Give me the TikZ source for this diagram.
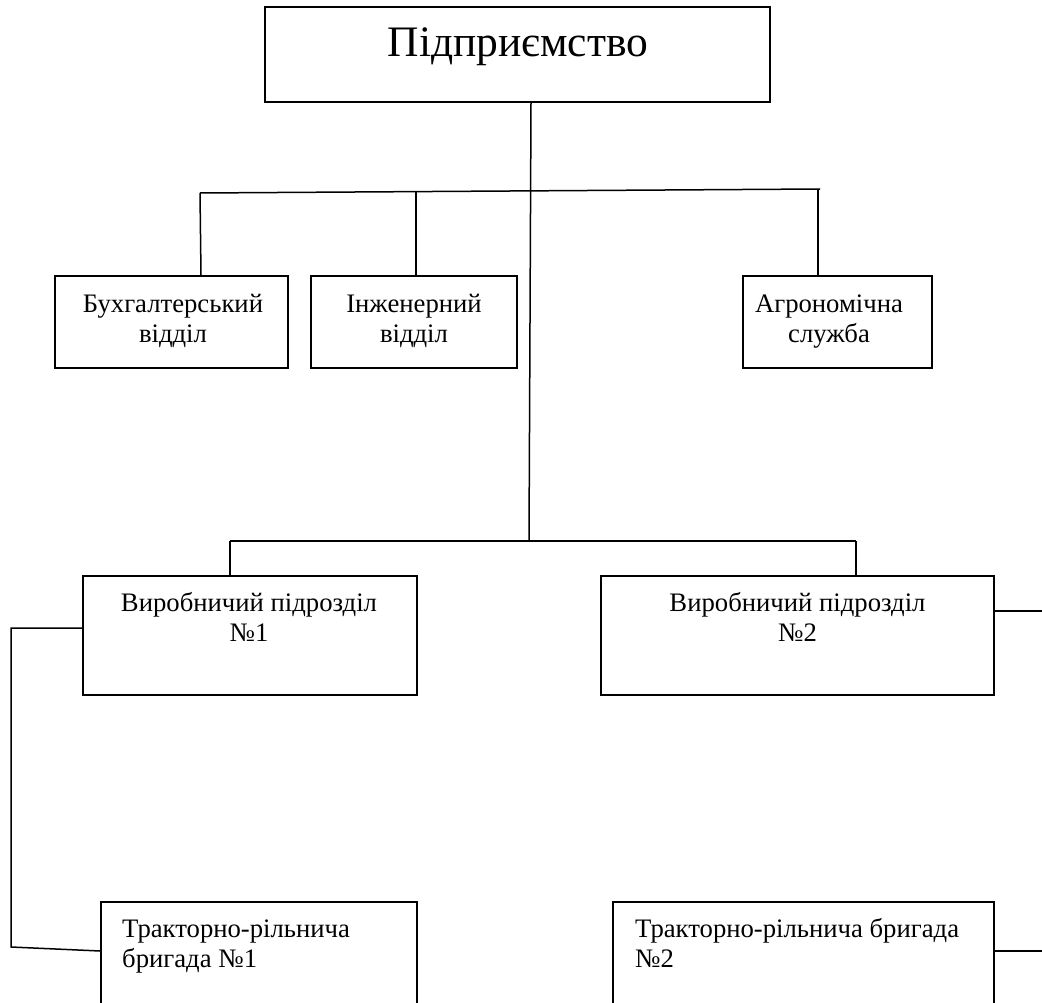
\documentclass[tikz,border=0pt]{standalone}
\usepackage{fontspec}
\setmainfont{Liberation Serif}
\usetikzlibrary{calc}
\begin{document}
\begin{tikzpicture}[x=1pt,y=-1pt,
  box/.style={draw, line width=1.8pt, rectangle, inner sep=0pt},
  lbl/.style={inner sep=0pt, font=\fontsize{26.7}{30}\selectfont},
  conn/.style={line width=1.5pt}]
\useasboundingbox (0,0) rectangle (1042,1003);
\clip (0,0) rectangle (1042,1003);
% boxes
\node[box, minimum width=505pt, minimum height=95pt] (top) at (517.5,54.5) {};
\node[box, minimum width=233pt, minimum height=92pt] (bux) at (171.5,322) {};
\node[box, minimum width=206pt, minimum height=92pt] (inz) at (414,322) {};
\node[box, minimum width=189pt, minimum height=92pt] (agr) at (837.5,322) {};
\node[box, minimum width=334pt, minimum height=119pt] (v1) at (250,635.5) {};
\node[box, minimum width=393pt, minimum height=119pt] (v2) at (797.5,635.5) {};
\node[box, minimum width=316pt, minimum height=140pt] (t1) at (259,972) {};
\node[box, minimum width=381pt, minimum height=140pt] (t2) at (803.5,972) {};
% texts (base anchor = baseline of the last line)
\node[inner sep=0pt, font=\fontsize{43.5}{50}\selectfont, anchor=base] (toptxt) at (518,57) {Підприємство};
\node[lbl, align=center, anchor=base] (buxtxt) at (173,342) {Бухгалтерський\\відділ};
\node[lbl, align=center, anchor=base] (inztxt) at (414,342) {Інженерний\\відділ};
\node[lbl, align=center, anchor=base] (agrtxt) at (829,342) {Агрономічна\\служба};
\node[lbl, align=center, anchor=base] (v1txt) at (249,641) {Виробничий підрозділ\\№1};
\node[lbl, align=center, anchor=base] (v2txt) at (797.5,641) {Виробничий підрозділ\\№2};
\node[lbl, align=left, anchor=base west] (t1txt) at (122,967) {Тракторно-рільнича\\бригада №1};
\node[lbl, align=left, anchor=base west] (t2txt) at (635,967) {Тракторно-рільнича бригада\\№2};
% connector points
\coordinate (busL) at (200,193);
\coordinate (busR) at (820,189);
\coordinate (busI) at (416,191.6);
\coordinate (busA) at (818,190);
\coordinate (main) at (529,541);
\coordinate (low1) at (230,541);
\coordinate (low2) at (856,541);
\coordinate (l1) at (11,628);
\coordinate (l2) at (11,947);
\coordinate (r1) at (1042,611);
\coordinate (r2) at (1042,951);
% connectors
\draw[conn] (top.south -| 531,0) -- (main);
\draw[conn] (busL) -- (busR);
\draw[conn] (busL) -- (bux.north -| 201,0);
\draw[conn] (busI) -- (inz.north -| busI);
\draw[conn] (busA) -- (agr.north -| busA);
\draw[conn] (low1) -- (low2);
\draw[conn] (low1) -- (v1.north -| low1);
\draw[conn] (low2) -- (v2.north -| low2);
\draw[conn] (v1.west |- 0,628) -- (l1) -- (l2) -- (t1.west |- 0,951);
\draw[conn] (v2.east |- r1) -- (r1);
\draw[conn] (t2.east |- r2) -- (r2);
\end{tikzpicture}
\end{document}
